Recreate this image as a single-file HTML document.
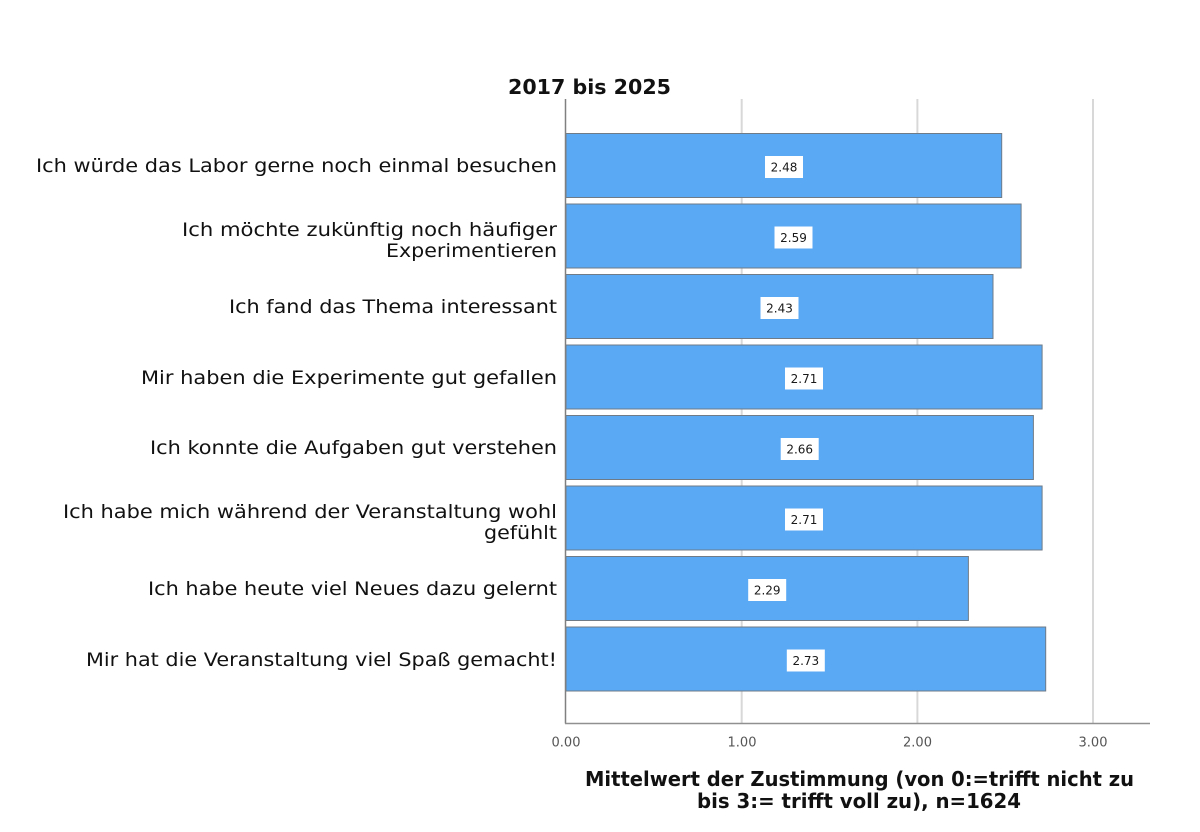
<!DOCTYPE html>
<html>
<head>
<meta charset="utf-8">
<style>
  html, body { margin: 0; padding: 0; background: #ffffff; }
  svg { display: block; }
  .lbl { font-family: "DejaVu Sans", "Liberation Sans", sans-serif; font-size: 19px; fill: #111111; }
  .tick { font-family: "DejaVu Sans", "Liberation Sans", sans-serif; font-size: 13px; fill: #555555; }
  .val { font-family: "DejaVu Sans", "Liberation Sans", sans-serif; font-size: 12px; fill: #1a1a1a; }
  .ttl { font-family: "DejaVu Sans", "Liberation Sans", sans-serif; font-size: 20px; font-weight: bold; fill: #111111; }
</style>
</head>
<body>
<svg width="1200" height="832" viewBox="0 0 1200 832" xmlns="http://www.w3.org/2000/svg">
  <rect x="0" y="0" width="1200" height="832" fill="#ffffff"/>

  <!-- Title -->
  <text class="ttl" x="508" y="94" textLength="163" lengthAdjust="spacingAndGlyphs">2017 bis 2025</text>

  <!-- Gridlines -->
  <line x1="741.7" y1="99" x2="741.7" y2="723" stroke="#d8d8d8" stroke-width="2"/>
  <line x1="917.4" y1="99" x2="917.4" y2="723" stroke="#d8d8d8" stroke-width="2"/>
  <line x1="1093" y1="99" x2="1093" y2="723" stroke="#d8d8d8" stroke-width="2"/>

  <!-- Bars -->
  <g fill="#59a9f5" stroke="#6f7b87" stroke-width="1">
    <rect x="566" y="133.5" width="435.7" height="64"/>
    <rect x="566" y="204" width="455.1" height="64"/>
    <rect x="566" y="274.5" width="427.0" height="64"/>
    <rect x="566" y="345" width="476.1" height="64"/>
    <rect x="566" y="415.5" width="467.4" height="64"/>
    <rect x="566" y="486" width="476.1" height="64"/>
    <rect x="566" y="556.5" width="402.4" height="64"/>
    <rect x="566" y="627" width="479.7" height="64"/>
  </g>

  <!-- Value labels -->
  <g>
    <rect x="765" y="156" width="38" height="22" fill="#ffffff"/>
    <text class="val" x="784" y="171.5" text-anchor="middle">2.48</text>
    <rect x="774.5" y="226.5" width="38" height="22" fill="#ffffff"/>
    <text class="val" x="793.5" y="242" text-anchor="middle">2.59</text>
    <rect x="760.5" y="297" width="38" height="22" fill="#ffffff"/>
    <text class="val" x="779.5" y="312.5" text-anchor="middle">2.43</text>
    <rect x="785" y="367.5" width="38" height="22" fill="#ffffff"/>
    <text class="val" x="804" y="383" text-anchor="middle">2.71</text>
    <rect x="780.7" y="438" width="38" height="22" fill="#ffffff"/>
    <text class="val" x="799.7" y="453.5" text-anchor="middle">2.66</text>
    <rect x="785" y="508.5" width="38" height="22" fill="#ffffff"/>
    <text class="val" x="804" y="524" text-anchor="middle">2.71</text>
    <rect x="748.2" y="579" width="38" height="22" fill="#ffffff"/>
    <text class="val" x="767.2" y="594.5" text-anchor="middle">2.29</text>
    <rect x="786.8" y="649.5" width="38" height="22" fill="#ffffff"/>
    <text class="val" x="805.8" y="665" text-anchor="middle">2.73</text>
  </g>

  <!-- Axes -->
  <line x1="565.5" y1="99" x2="565.5" y2="723.5" stroke="#808080" stroke-width="1.5"/>
  <line x1="565" y1="723.5" x2="1150" y2="723.5" stroke="#909090" stroke-width="1.5"/>

  <!-- Tick labels -->
  <text class="tick" x="566" y="746.5" text-anchor="middle">0.00</text>
  <text class="tick" x="742" y="746.5" text-anchor="middle">1.00</text>
  <text class="tick" x="917.5" y="746.5" text-anchor="middle">2.00</text>
  <text class="tick" x="1093" y="746.5" text-anchor="middle">3.00</text>

  <!-- Category labels -->
  <text class="lbl" x="557" y="172" text-anchor="end" textLength="521" lengthAdjust="spacingAndGlyphs">Ich würde das Labor gerne noch einmal besuchen</text>
  <text class="lbl" x="557" y="236" text-anchor="end" textLength="375" lengthAdjust="spacingAndGlyphs">Ich möchte zukünftig noch häufiger</text>
  <text class="lbl" x="557" y="257" text-anchor="end" textLength="171" lengthAdjust="spacingAndGlyphs">Experimentieren</text>
  <text class="lbl" x="557" y="313" text-anchor="end" textLength="328" lengthAdjust="spacingAndGlyphs">Ich fand das Thema interessant</text>
  <text class="lbl" x="557" y="384" text-anchor="end" textLength="416" lengthAdjust="spacingAndGlyphs">Mir haben die Experimente gut gefallen</text>
  <text class="lbl" x="557" y="454" text-anchor="end" textLength="407" lengthAdjust="spacingAndGlyphs">Ich konnte die Aufgaben gut verstehen</text>
  <text class="lbl" x="557" y="518" text-anchor="end" textLength="494" lengthAdjust="spacingAndGlyphs">Ich habe mich während der Veranstaltung wohl</text>
  <text class="lbl" x="557" y="539" text-anchor="end" textLength="73" lengthAdjust="spacingAndGlyphs">gefühlt</text>
  <text class="lbl" x="557" y="595" text-anchor="end" textLength="409" lengthAdjust="spacingAndGlyphs">Ich habe heute viel Neues dazu gelernt</text>
  <text class="lbl" x="557" y="666" text-anchor="end" textLength="471" lengthAdjust="spacingAndGlyphs">Mir hat die Veranstaltung viel Spaß gemacht!</text>

  <!-- X axis title -->
  <text class="ttl" x="585" y="786" textLength="549" lengthAdjust="spacingAndGlyphs">Mittelwert der Zustimmung (von 0:=trifft nicht zu</text>
  <text class="ttl" x="697" y="808" textLength="324" lengthAdjust="spacingAndGlyphs">bis 3:= trifft voll zu), n=1624</text>
</svg>
</body>
</html>
